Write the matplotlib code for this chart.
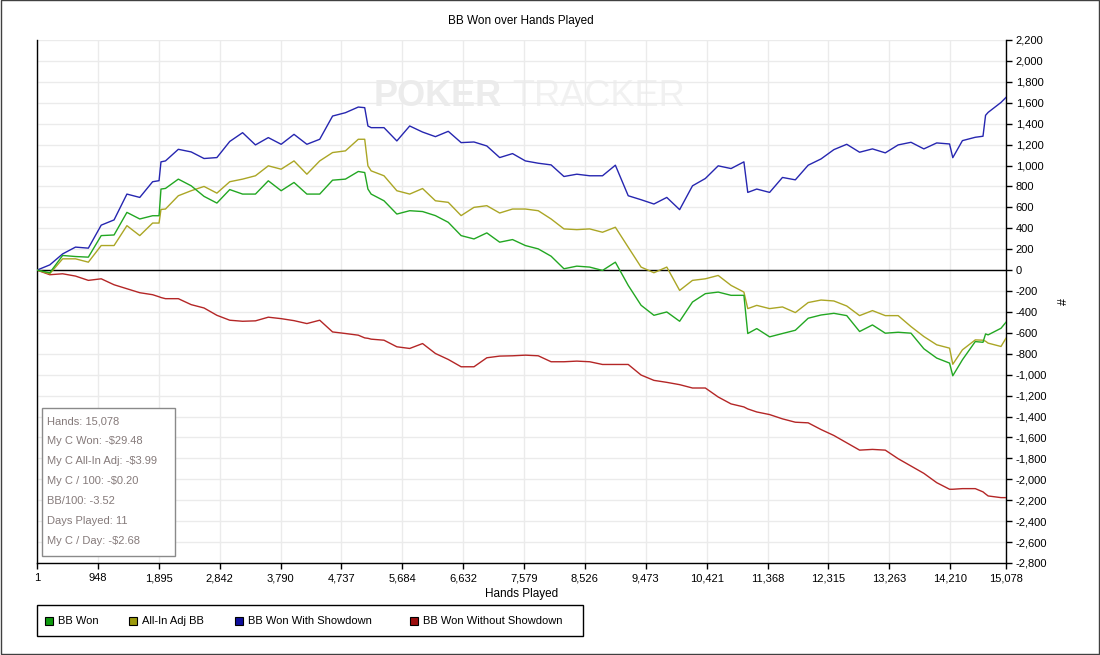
import matplotlib
matplotlib.use("Agg")
import matplotlib.pyplot as plt
from matplotlib.patches import Rectangle
from matplotlib.ticker import FuncFormatter

plt.rcParams['font.family'] = ['Liberation Sans', 'DejaVu Sans']

# sample points (hands played)
hands = [1, 200, 400, 600, 800, 1000, 1200, 1400, 1600, 1800, 1900, 1930,
         2000, 2200, 2400, 2600, 2800, 3000, 3200, 3400, 3600, 3800,
         4000, 4200, 4400, 4600, 4800, 5000, 5100, 5150, 5200, 5400, 5600, 5800,
         6000, 6200, 6400, 6600, 6800, 7000, 7200, 7400, 7600, 7800,
         8000, 8200, 8400, 8600, 8800, 9000, 9200, 9400, 9600, 9800,
         10000, 10200, 10400, 10600, 10800, 11000, 11060, 11200, 11400, 11600, 11800,
         12000, 12200, 12400, 12600, 12800, 13000, 13200, 13400, 13600, 13800,
         14000, 14200, 14250, 14400, 14600, 14720, 14760, 14800, 15000, 15078]

bb_won = [0, -25, 140, 130, 124, 330, 336, 552, 489, 520, 520, 775,
          781, 870, 806, 705, 641, 770, 727, 727, 854, 759,
          838, 727, 727, 860, 870, 943, 933, 775, 727, 663, 536, 568,
          560, 521, 457, 330, 298, 356, 267, 292, 235, 203,
          133, 13, 38, 29, -3, 76, -146, -336, -432, -400,
          -489, -305, -225, -210, -241, -241, -606, -559, -638, -606, -575,
          -460, -429, -413, -435, -587, -524, -603, -594, -603, -752,
          -841, -889, -1010, -857, -683, -690, -610, -619, -556, -498]

allin_adj = [0, -35, 108, 108, 76, 235, 235, 425, 330, 450, 450, 580,
             584, 711, 759, 800, 736, 845, 870, 902, 997, 965,
             1044, 917, 1044, 1124, 1140, 1251, 1251, 997, 949, 902, 759, 727,
             780, 663, 648, 521, 600, 616, 546, 584, 584, 568,
             489, 394, 387, 394, 362, 410, 219, 29, -25, 29,
             -194, -98, -83, -51, -146, -210, -368, -337, -368, -352, -406,
             -310, -286, -295, -343, -435, -387, -435, -435, -540, -635,
             -714, -746, -900, -762, -667, -670, -680, -698, -730, -651]

bb_showdown = [0, 50, 155, 220, 210, 430, 480, 727, 695, 845, 855, 1035,
               1044, 1155, 1130, 1067, 1076, 1230, 1314, 1197, 1267, 1203,
               1298, 1203, 1251, 1473, 1505, 1559, 1553, 1378, 1362, 1362, 1235, 1378,
               1320, 1276, 1327, 1219, 1225, 1187, 1076, 1114, 1044, 1022,
               1006, 895, 917, 902, 902, 1003, 711, 673, 632, 695,
               578, 806, 876, 997, 971, 1035, 743, 775, 743, 886, 863,
               1003, 1063, 1152, 1203, 1127, 1159, 1121, 1197, 1222, 1159,
               1216, 1206, 1075, 1238, 1270, 1280, 1480, 1508, 1603, 1651]

bb_no_showdown = [0, -44, -35, -57, -98, -83, -140, -178, -216, -235, -255, -262,
                  -273, -273, -330, -362, -432, -479, -489, -485, -450, -464,
                  -483, -511, -479, -591, -606, -622, -648, -652, -660, -670, -733, -749,
                  -702, -797, -854, -924, -924, -838, -822, -819, -813, -819,
                  -876, -876, -870, -876, -902, -902, -902, -1003, -1054, -1073,
                  -1095, -1127, -1127, -1213, -1279, -1308, -1327, -1356, -1381, -1422, -1454,
                  -1460, -1524, -1581, -1651, -1721, -1714, -1721, -1803, -1873, -1943,
                  -2032, -2095, -2095, -2089, -2089, -2120, -2140, -2159, -2175, -2175]

x_ticks = [1, 948, 1895, 2842, 3790, 4737, 5684, 6632, 7579, 8526,
           9473, 10421, 11368, 12315, 13263, 14210, 15078]
y_ticks = list(range(-2800, 2201, 200))

series_names = ["BB Won", "All-In Adj BB", "BB Won With Showdown", "BB Won Without Showdown"]
line_colors = ["#22A722", "#ABA625", "#2626B0", "#B42626"]
box_colors = ["#0E9A0E", "#9C9A0C", "#0E0E9C", "#9C0E0E"]

stats = ["Hands: 15,078", "My C Won: -$29.48", "My C All-In Adj: -$3.99",
         "My C / 100: -$0.20", "BB/100: -3.52", "Days Played: 11", "My C / Day: -$2.68"]

W, H = 1100, 655
def fx(px):
    return px / W
def fy(py):
    return 1 - py / H

fig = plt.figure(figsize=(11, 6.55), dpi=100)
ax = fig.add_axes([fx(37), fy(563), (1006 - 37) / W, (563 - 40) / H])

ax.set_axisbelow(True)
ax.grid(True, color="#EBEBEB", lw=1)
ax.axhline(0, color="black", lw=1, zorder=2)

# watermark
ax.text(0.347, 0.874, "POKER", transform=ax.transAxes, fontsize=26, fontweight="bold",
        color="#ECECEC", va="baseline", ha="left", zorder=0.5)
ax.text(0.490, 0.874, "TRACKER", transform=ax.transAxes, fontsize=26,
        color="#F1F1F1", va="baseline", ha="left", zorder=0.5)

for ys, c in zip([bb_no_showdown, bb_showdown, allin_adj, bb_won],
                 [line_colors[3], line_colors[2], line_colors[1], line_colors[0]]):
    ax.plot(hands, ys, color=c, lw=1.0, zorder=3)

ax.set_xlim(1, 15078)
ax.set_ylim(-2800, 2200)
ax.set_xticks(x_ticks)
ax.set_yticks(y_ticks)
fmt = FuncFormatter(lambda v, p: f"{int(v):,}")
ax.xaxis.set_major_formatter(fmt)
ax.yaxis.set_major_formatter(fmt)
ax.yaxis.tick_right()
ax.yaxis.set_label_position("right")
ax.tick_params(axis="both", labelsize=8, length=4, width=1, color="black", direction="out")
ax.tick_params(axis="y", pad=3)
ax.spines["top"].set_visible(False)
for s in ["left", "right", "bottom"]:
    ax.spines[s].set_color("black")
    ax.spines[s].set_linewidth(1)

ax.set_xlabel("Hands Played", fontsize=8.5, labelpad=3)
ax.set_ylabel("#", fontsize=9, labelpad=8)
fig.text(fx(521), fy(21), "BB Won over Hands Played", fontsize=8.5, ha="center", va="center")

# stats box
fig.patches.append(Rectangle((fx(42), fy(556)), (175 - 42) / W, (556 - 408) / H,
                             transform=fig.transFigure, fill=True, facecolor="white",
                             edgecolor="#8A8A8A", lw=1, zorder=5))
for i, s in enumerate(stats):
    fig.text(fx(47), fy(421 + 20 * i), s, fontsize=8, color="#857A7A",
             ha="left", va="center", zorder=6)

# legend
fig.patches.append(Rectangle((fx(37), fy(636)), (583 - 37) / W, (636 - 605) / H,
                             transform=fig.transFigure, fill=False, edgecolor="black", lw=1))
sq_x = [45, 129, 235, 410]
for px, name, c in zip(sq_x, series_names, box_colors):
    fig.patches.append(Rectangle((fx(px), fy(624.5)), 8 / W, 8 / H,
                                 transform=fig.transFigure, facecolor=c, edgecolor="black", lw=0.8))
    fig.text(fx(px + 13), fy(620.5), name, fontsize=8, ha="left", va="center")

# outer frame
fig.patches.append(Rectangle((0.0005, 0.0008), 0.999, 0.9985, transform=fig.transFigure,
                             fill=False, edgecolor="#404040", lw=1))

fig.savefig("out.png", dpi=100)
